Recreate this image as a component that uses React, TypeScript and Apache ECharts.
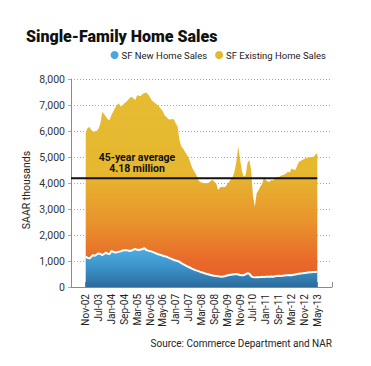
import React, { useEffect, useRef } from "react";
import * as echarts from "echarts";

const TITLE = "Single-Family Home Sales";
const SOURCE = "Source: Commerce Department and NAR";
const SERIES_NEW = "SF New Home Sales";
const SERIES_EXISTING = "SF Existing Home Sales";
const Y_NAME = "SAAR thousands";
const AVERAGE = 4180;
const AVERAGE_LINE1 = "45-year average";
const AVERAGE_LINE2 = "4.18 million";

// Monthly, Nov-02 .. May-13 (127 months), SAAR thousands
const newSales = [
  1165, 1120, 1100, 1165, 1230, 1200, 1250, 1295, 1270, 1230,
  1270, 1320, 1280, 1270, 1385, 1350, 1330, 1340, 1360, 1370,
  1400, 1410, 1420, 1400, 1385, 1400, 1440, 1460, 1430, 1420,
  1440, 1460, 1490, 1420, 1400, 1380, 1360, 1330, 1300, 1270,
  1250, 1230, 1200, 1180, 1165, 1130, 1100, 1070, 1040, 1020,
  1000, 970, 920, 880, 840, 800, 770, 740, 700, 670,
  640, 620, 590, 565, 545, 520, 500, 480, 460, 445,
  430, 420, 410, 400, 395, 400, 420, 440, 460, 470,
  480, 490, 500, 480, 460, 450, 455, 490, 525, 510,
  420, 380, 370, 380, 375, 380, 390, 380, 395, 390,
  390, 400, 395, 410, 420, 430, 425, 435, 440, 450,
  455, 460, 455, 470, 480, 500, 510, 520, 525, 535,
  545, 560, 565, 570, 575, 580, 590,
];

const existingSales = [
  4785, 5000, 5050, 4885, 4730, 4790, 4750, 4805, 5030, 5500,
  5380, 5230, 5170, 5150, 5235, 5400, 5550, 5660, 5710, 5570,
  5580, 5660, 5700, 5790, 5895, 5920, 5810, 5730, 5950, 5930,
  5920, 5960, 5970, 6060, 6000, 5920, 5810, 5790, 5770, 5730,
  5685, 5620, 5550, 5420, 5375, 5320, 5340, 5390, 5400, 5280,
  5160, 4680, 4480, 4450, 4360, 4300, 4190, 4040, 3880, 3780,
  3700, 3530, 3460, 3455, 3455, 3470, 3485, 3540, 3620, 3670,
  3620, 3565, 3320, 3420, 3465, 3440, 3440, 3510, 3590, 3680,
  3760, 3960, 4350, 4920, 4440, 4000, 3785, 3810, 4235, 4380,
  4080, 3120, 2720, 3220, 3345, 3480, 3570, 3860, 3720, 3670,
  3660, 3715, 3705, 3770, 3820, 3790, 3855, 3865, 3890, 3920,
  3975, 3940, 4105, 4050, 4020, 4150, 4310, 4330, 4365, 4395,
  4415, 4410, 4425, 4430, 4435, 4520, 4550,
];

const tickLabels = [
  "Nov-02", "Jul-03", "Jan-04", "Sep-04", "Mar-05", "Nov-05", "May-06",
  "Jan-07", "Jul-07", "Mar-08", "Sep-08", "May-09", "Nov-09", "Jul-10",
  "Jan-11", "Sep-11", "Mar-12", "Nov-12", "May-13",
];
const TICK_STEP = 7;

export default function App() {
  const ref = useRef<HTMLDivElement>(null);
  useEffect(() => {
    if (!ref.current) return;
    const chart = echarts.init(ref.current, null, { renderer: "svg" });
    const FONT = "Roboto";
    const PAD_L = 8;
    const PAD_R = 8;
    const n = newSales.length;
    const total = PAD_L + n + PAD_R;
    const categories = Array.from({ length: total }, (_, k) => String(k - PAD_L));
    const isLabel = (idx: number) => {
      const m = idx - PAD_L;
      return m >= 0 && m < n && m % TICK_STEP === 0;
    };
    const lastData = PAD_L + n - 1;

    const option: any = {
      animation: false,
      backgroundColor: "#ffffff",
      title: {
        text: TITLE,
        left: 21,
        top: 23,
        textStyle: { fontFamily: FONT, fontSize: 16, fontWeight: 900, color: "#111" },
      },
      legend: {
        right: 40,
        top: 45,
        icon: "circle",
        itemWidth: 8,
        itemHeight: 8,
        itemGap: 8,
        data: [SERIES_NEW, SERIES_EXISTING],
        textStyle: { fontFamily: FONT, fontSize: 9.5, color: "#222", padding: [0, 0, 0, -2] },
      },
      grid: { left: 71, right: 39, top: 79, bottom: 79 },
      xAxis: {
        type: "category",
        data: categories,
        boundaryGap: false,
        axisLine: { lineStyle: { color: "#8a8a8a", width: 1 } },
        splitLine: { show: false },
        axisTick: {
          show: true,
          inside: true,
          length: 5,
          lineStyle: { color: "#8a8a8a" },
          interval: (idx: number) => isLabel(idx) || idx === total - 1,
        },
        axisLabel: {
          interval: (idx: number) => isLabel(idx),
          rotate: 90,
          margin: 7,
          fontFamily: FONT,
          fontSize: 10,
          color: "#222",
          formatter: (_v: string, idx: number) =>
            tickLabels[Math.round((idx - PAD_L) / TICK_STEP)] ?? "",
        },
      },
      yAxis: {
        type: "value",
        min: 0,
        max: 8000,
        interval: 1000,
        axisLine: { show: true, lineStyle: { color: "#8a8a8a", width: 1 } },
        axisTick: { show: true, length: 3, lineStyle: { color: "#aaa" } },
        splitLine: { show: true, lineStyle: { color: "#a8a8a8", type: [1, 2], width: 1 } },
        axisLabel: {
          margin: 6,
          fontFamily: FONT,
          fontSize: 10.5,
          color: "#333",
          formatter: (v: number) => v.toLocaleString("en-US"),
        },
      },
      series: [
        {
          name: SERIES_NEW,
          type: "line",
          stack: "total",
          z: 4,
          symbol: "none",
          data: newSales.map((v, i) => [i + PAD_L, v]),
          itemStyle: { color: "#4aa6dc" },
          lineStyle: { color: "#ffffff", width: 2 },
          areaStyle: {
            opacity: 1,
            color: new echarts.graphic.LinearGradient(0, 248, 0, 287, [
              { offset: 0, color: "#4fade3" },
              { offset: 0.5, color: "#3b92c9" },
              { offset: 1, color: "#2b6b9c" },
            ], true),
          },
        },
        {
          name: SERIES_EXISTING,
          type: "line",
          stack: "total",
          z: 2,
          symbol: "none",
          data: existingSales.map((v, i) => [i + PAD_L, v]),
          itemStyle: { color: "#e3b92f" },
          lineStyle: { width: 0, opacity: 0 },
          areaStyle: {
            opacity: 1,
            color: new echarts.graphic.LinearGradient(0, 79, 0, 287, [
              { offset: 0, color: "#e5bd32" },
              { offset: 0.45, color: "#e6b72f" },
              { offset: 0.7, color: "#e8912c" },
              { offset: 0.88, color: "#e8682a" },
              { offset: 1, color: "#e55f28" },
            ], true),
          },
        },
        {
          name: "average",
          type: "line",
          z: 6,
          silent: true,
          symbol: "none",
          data: [[0, AVERAGE], [lastData, AVERAGE]],
          lineStyle: { color: "#111", width: 2 },
        },
      ],
      graphic: [
        {
          type: "text",
          x: 26,
          y: 190,
          rotation: Math.PI / 2,
          style: {
            text: Y_NAME,
            textAlign: "center",
            textVerticalAlign: "middle",
            font: "10.5px Roboto",
            fill: "#222",
          },
        },
        {
          type: "text",
          x: 137,
          y: 157,
          z: 10,
          style: {
            text: AVERAGE_LINE1,
            textAlign: "center",
            textVerticalAlign: "middle",
            font: "bold 10.5px Roboto",
            fill: "#111",
          },
        },
        {
          type: "text",
          x: 137,
          y: 168.5,
          z: 10,
          style: {
            text: AVERAGE_LINE2,
            textAlign: "center",
            textVerticalAlign: "middle",
            font: "bold 10.5px Roboto",
            fill: "#111",
          },
        },
        {
          type: "text",
          x: 332,
          y: 343,
          style: {
            text: SOURCE,
            textAlign: "right",
            textVerticalAlign: "middle",
            font: "10px Roboto",
            fill: "#222",
          },
        },
      ],
    };
    chart.setOption(option);
    return () => chart.dispose();
  }, []);

  return (
    <div
      ref={ref}
      style={{ position: "fixed", left: 0, top: 0, width: 371, height: 366, background: "#fff" }}
    />
  );
}
